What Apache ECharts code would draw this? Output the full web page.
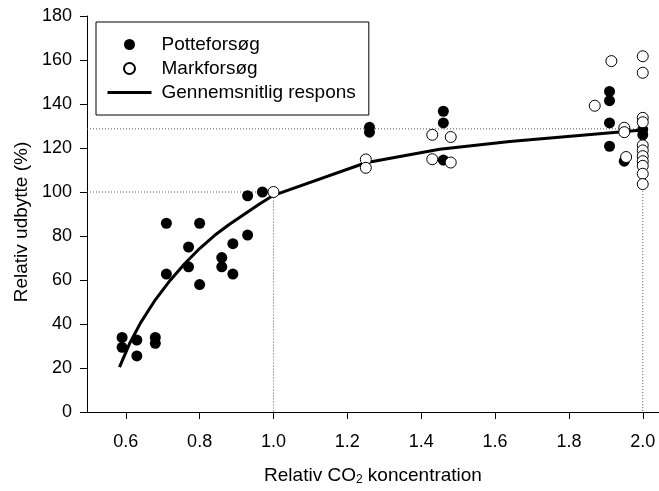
<!DOCTYPE html>
<html>
<head>
<meta charset="utf-8">
<script src="https://cdn.jsdelivr.net/npm/echarts@6/dist/echarts.min.js"></script>
<style>
html,body{margin:0;padding:0;background:#fff;}
#chart{width:659px;height:491px;}
</style>
</head>
<body>
<div id="chart"></div>
<script>
// Potteforsøg (pot experiments): [relative CO2, relative yield %]
var potteX = [0.59,0.59,0.63,0.63,0.68,0.68,0.71,0.71,0.77,0.77,0.80,0.80,0.86,0.86,0.89,0.89,0.93,0.93,0.97,1.26,1.26,1.46,1.46,1.46,1.91,1.91,1.91,1.91,1.95,2.0,2.0];
var potteY = [33.9,29.4,32.7,25.5,33.9,31.2,85.8,62.7,75.0,66.0,85.8,57.9,70.2,66.0,76.5,62.7,80.4,98.3,100.0,129.4,127.2,136.7,131.4,114.5,145.7,141.5,131.4,120.8,114.0,128.4,126.0];
// Markforsøg (field experiments)
var markX = [1.0,1.25,1.25,1.43,1.43,1.48,1.48,1.87,1.915,1.95,1.95,1.955,2.0,2.0,2.0,2.0,2.0,2.0,2.0,2.0,2.0,2.0,2.0];
var markY = [100.0,114.8,111.0,126.0,114.9,125.0,113.4,139.2,159.5,129.2,127.2,115.9,161.7,154.2,133.7,131.7,121.2,118.9,116.3,114.0,111.9,108.3,103.6];
// Gennemsnitlig respons (average response curve)
var curveX = [0.583,0.61,0.64,0.68,0.72,0.76,0.80,0.84,0.88,0.92,0.96,1.0,1.25,1.45,1.64,2.0];
var curveY = [20.4,31,40.5,51,59.8,67.5,74.3,80.2,85.2,89.8,94.3,98.5,113.3,119.4,123,128.2];
// dotted reference lines
var ref1X = [0.495,1.0,1.0], ref1Y = [100,100,0];
var ref2X = [0.495,2.0,2.0], ref2Y = [128.7,128.7,0];
var xTicks = [0.6,0.8,1.0,1.2,1.4,1.6,1.8,2.0];

function zip(a,b){return a.map(function(v,i){return [v,b[i]];});}

var FONT = '"Liberation Sans", Arial, sans-serif';
var chart = echarts.init(document.getElementById('chart'), null, {renderer:'canvas'});
var refStyle = {color:'#555', width:1, type:[1,2]};
chart.setOption({
  animation:false,
  backgroundColor:'#fff',
  textStyle:{fontFamily:FONT},
  grid:{left:87, right:0, top:16, bottom:75, containLabel:false},
  legend:{
    orient:'vertical', left:96, top:22,
    data:['Potteforsøg','Markforsøg',{name:'Gennemsnitlig respons', itemStyle:{opacity:0}, lineStyle:{width:3}}],
    itemWidth:44, itemHeight:11, itemGap:5,
    padding:[13,13,13,10],
    borderColor:'#000', borderWidth:1,
    textStyle:{fontSize:19, color:'#000', fontFamily:FONT, padding:[0,0,0,5]}
  },
  xAxis:{
    type:'value', min:0.495, max:2.044,
    axisLine:{lineStyle:{color:'#000', width:1}},
    axisTick:{customValues:xTicks, length:7, lineStyle:{color:'#000'}},
    axisLabel:{customValues:xTicks, formatter:function(v){return v.toFixed(1);}, fontSize:18, color:'#000', margin:21, fontFamily:FONT},
    splitLine:{show:false},
    name:'Relativ CO{sub|2} koncentration',
    nameLocation:'middle', nameGap:53,
    nameTextStyle:{fontSize:19, color:'#000', fontFamily:FONT,
      rich:{sub:{fontSize:12, color:'#000', fontFamily:FONT, padding:[9,0,0,0], verticalAlign:'bottom'}}}
  },
  yAxis:{
    type:'value', min:0, max:180, interval:20,
    axisLine:{show:true, lineStyle:{color:'#000', width:1}},
    axisTick:{show:true, length:7, lineStyle:{color:'#000'}},
    axisLabel:{fontSize:18, color:'#000', margin:15, fontFamily:FONT},
    splitLine:{show:false},
    name:'Relativ udbytte (%)',
    nameLocation:'middle', nameGap:56,
    nameTextStyle:{fontSize:19, color:'#000', fontFamily:FONT, padding:[0,16,0,0]}
  },
  series:[
    {name:'ref1', type:'line', data:zip(ref1X,ref1Y), symbol:'none', lineStyle:refStyle, silent:true, z:1},
    {name:'ref2', type:'line', data:zip(ref2X,ref2Y), symbol:'none', lineStyle:refStyle, silent:true, z:1},
    {name:'Gennemsnitlig respons', type:'line', data:zip(curveX,curveY), symbol:'none',
      smooth:false, itemStyle:{color:'#000'}, lineStyle:{color:'#000', width:3}, z:2},
    {name:'Potteforsøg', type:'scatter', data:zip(potteX,potteY), symbol:'circle', symbolSize:11,
      itemStyle:{color:'#000', opacity:1}, z:3},
    {name:'Markforsøg', type:'scatter', data:zip(markX,markY), symbol:'circle', symbolSize:11,
      itemStyle:{color:'#fff', borderColor:'#000', borderWidth:1, opacity:1}, z:4}
  ]
});
</script>
</body>
</html>
